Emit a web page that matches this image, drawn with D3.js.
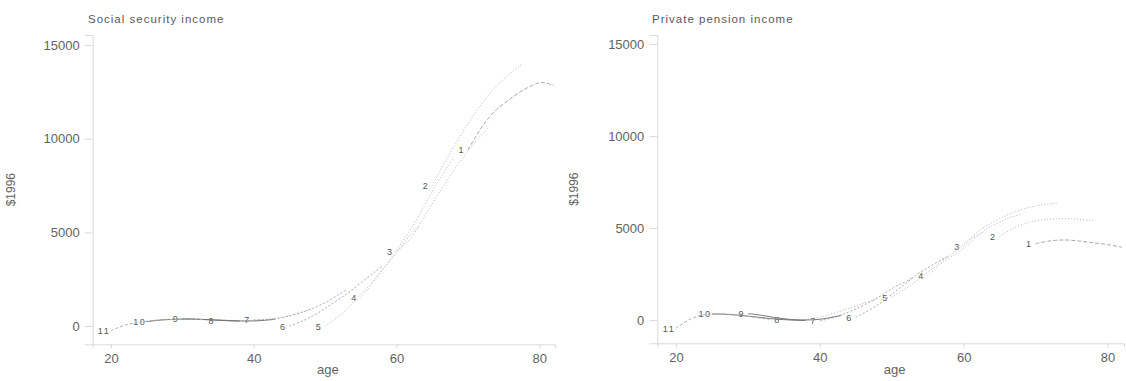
<!DOCTYPE html>
<html>
<head>
<meta charset="utf-8">
<script src="https://cdn.jsdelivr.net/npm/d3@7"></script>
<style>
  html, body { margin: 0; padding: 0; background: #ffffff; }
  svg { display: block; }
  text { font-family: "Liberation Sans", Arial, sans-serif; }
</style>
</head>
<body>
<svg id="chart" width="1126" height="381"></svg>
<script>
// ---------- data ----------
const cohortLabels = ["1","2","3","4","5","6","7","8","9","10","11"];

// Social security income: ages and values per cohort (cohort 1 ... 11)
const ssAges = [
  [70,71,72,73,74,76,78,80,81,82],
  [65,66,67,68,70,72,74,76,77.5],
  [60,62,64,66,68,70,72,73],
  [55,57,59,61,63,65,67,68],
  [50,52,54,56,58,60,62,63],
  [45,47,49,51,53,55,57,58],
  [40,42,44,46,48,50,52,53],
  [35,37,39,41,43,45,47,48],
  [30,32,34,36,38,40,42,43],
  [25,27,29,31,33,35,37,38],
  [20,22,24,26,28,30,32,33]
];
const ssValues = [
  [9400,10050,10650,11150,11550,12150,12650,12980,12960,12850],
  [7500,8200,8900,9550,10800,11900,12800,13500,13950],
  [4000,4700,5900,7150,8300,9350,10250,10650],
  [1500,2450,3500,4600,5800,7200,8400,9000],
  [0,550,1300,2100,3000,3900,4900,5300],
  [0,300,700,1200,1700,2300,2900,3200],
  [330,350,450,650,900,1250,1700,1950],
  [320,300,290,320,410,550,760,900],
  [380,360,330,300,270,270,320,360],
  [230,320,360,370,350,310,270,260],
  [-250,50,200,300,340,360,350,340]
];

// Private pension income
const ppAges = [
  [70,72,74,76,78,80,82],
  [65,67,69,71,73,75,78],
  [60,62,64,66,68,70,73],
  [55,57,60,63,66,68],
  [50,53,56,59,61,63],
  [45,48,51,54,58],
  [40,42,45,48,50,53],
  [35,37,40,43,46,48],
  [30,32,34,36,38,40,43],
  [25,27,29,31,33,35,38],
  [20,22,24,26,28,30,32,33]
];
const ppValues = [
  [4150,4300,4350,4300,4200,4100,3950],
  [4550,5000,5300,5450,5500,5500,5400],
  [4000,4800,5300,5700,6000,6200,6350],
  [2400,3100,3900,4900,5500,5750],
  [1250,2000,2900,3800,4400,4800],
  [150,800,1700,2600,3500],
  [-50,150,600,1200,1700,2300],
  [50,0,150,500,900,1150],
  [350,250,120,30,0,40,250],
  [330,310,250,170,80,20,-30],
  [-450,50,290,330,290,200,90,30]
];

const yTicks = [0, 5000, 10000, 15000];
const xTicks = [20, 40, 60, 80];
const panelTitles = ["Social security income", "Private pension income"];
const yAxisTitle = "$1996";
const xAxisTitle = "age";

// ---------- styles ----------
const dashes = ["4,2","1,2","1,2","1,2","1,2","2,2","2,2","1,2",null,null,"3,2"];
const lineColor = ["#a8a8a8","#b4b4b4","#b4b4b4","#b6b6b6","#b6b6b6","#a8a8a8","#adadad","#adadad","#7a7a7a","#747474","#acacac"];

const panels = [
  { title: panelTitles[0], ages: ssAges, vals: ssValues,
    xr: [92.7, 555], xd: [17.44, 82.2],
    yr: [344.3, 35], yd: [-977, 15536], titleX: 88, yTitleX: 15 },
  { title: panelTitles[1], ages: ppAges, vals: ppValues,
    xr: [657.3, 1124], xd: [17.4, 82.3],
    yr: [343.3, 35], yd: [-1266, 15490], titleX: 652, yTitleX: 578 }
];

const svg = d3.select("#chart");

panels.forEach(p => {
  const x = d3.scaleLinear().domain(p.xd).range(p.xr);
  const y = d3.scaleLinear().domain(p.yd).range(p.yr);
  const g = svg.append("g");

  // axes
  const yAxis = d3.axisLeft(y).tickValues(yTicks).tickSize(8).tickPadding(5).tickFormat(d3.format("d"));
  const yg = g.append("g").attr("transform", `translate(${p.xr[0]},0)`).call(yAxis);
  const xAxis = d3.axisBottom(x).tickValues(xTicks).tickSize(4).tickPadding(5).tickFormat(d3.format("d"));
  const xg = g.append("g").attr("transform", `translate(0,${p.yr[0]})`).call(xAxis);
  [yg, xg].forEach(a => {
    a.select(".domain").attr("stroke", "#dadada").attr("stroke-width", 1);
    a.selectAll(".tick line").attr("stroke", "#dadada");
    a.selectAll(".tick text").attr("fill", "#636363").attr("font-size", 13)
      .style("font-family", "'Liberation Sans', Arial, sans-serif");
  });

  // titles
  g.append("text").attr("x", p.titleX).attr("y", 23).attr("font-size", 11.5)
    .attr("letter-spacing", 1).attr("fill", "#5a5a5a").text(p.title);
  g.append("text").attr("transform", `translate(${p.yTitleX},${(p.yr[0]+p.yr[1])/2}) rotate(-90)`)
    .attr("text-anchor", "middle").attr("font-size", 12).attr("fill", "#636363").text(yAxisTitle);
  g.append("text").attr("x", (p.xr[0]+p.xr[1])/2 + 4).attr("y", 374).attr("text-anchor", "middle")
    .attr("font-size", 13).attr("fill", "#636363").text(xAxisTitle);

  // curves
  const line = d3.line().x(d => x(d[0])).y(d => y(d[1])).curve(d3.curveCatmullRom.alpha(0.5));
  cohortLabels.forEach((lab, i) => {
    const pts = p.ages[i].map((a, j) => [a, p.vals[i][j]]);
    g.append("path").datum(pts).attr("d", line)
      .attr("fill", "none").attr("stroke", lineColor[i]).attr("stroke-width", 1)
      .attr("stroke-dasharray", dashes[i]);
    g.append("text").attr("x", x(pts[0][0]) - 7).attr("y", y(pts[0][1]) + 3.5)
      .attr("text-anchor", "middle").attr("font-size", 9).attr("letter-spacing", lab.length > 1 ? 1.5 : 0)
      .attr("fill", "#555555").text(lab);
  });
});
</script>
</body>
</html>
